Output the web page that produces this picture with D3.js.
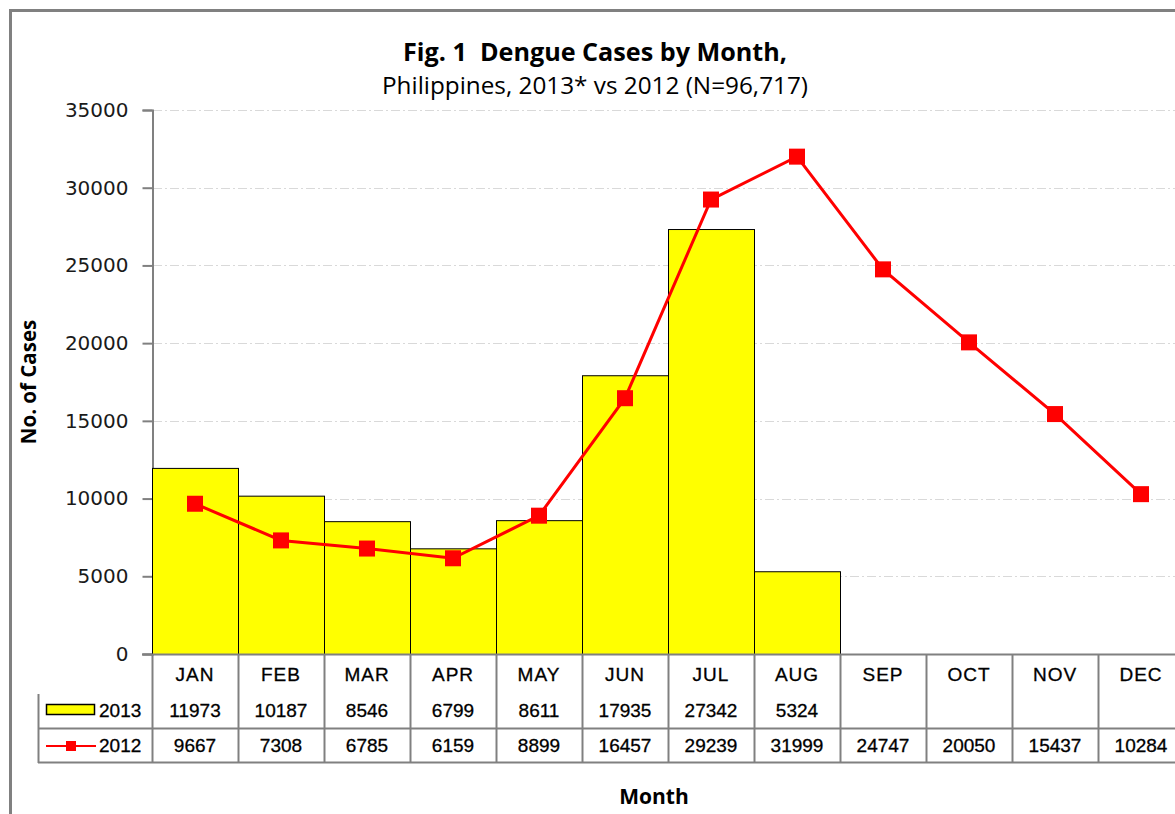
<!DOCTYPE html>
<html>
<head>
<meta charset="utf-8">
<script src="https://cdn.jsdelivr.net/npm/d3@7/dist/d3.min.js"></script>
<style>
  html, body { margin: 0; padding: 0; background: #fff; }
  svg { display: block; }
</style>
</head>
<body>
<div id="chart"></div>
<script>
/* dengue cases by month: bars (2013) + line (2012) + data table under the axis */
const months = ['JAN', 'FEB', 'MAR', 'APR', 'MAY', 'JUN', 'JUL', 'AUG', 'SEP', 'OCT', 'NOV', 'DEC'];
const cases2013 = [11973, 10187, 8546, 6799, 8611, 17935, 27342, 5324];
const cases2012 = [9667, 7308, 6785, 6159, 8899, 16457, 29239, 31999, 24747, 20050, 15437, 10284];
const yTicks = [0, 5000, 10000, 15000, 20000, 25000, 30000, 35000];
const titleLines = ['Fig. 1  Dengue Cases by Month,', 'Philippines, 2013* vs 2012 (N=96,717)'];

const W = 1175, H = 814;
const grey = '#808080';
const titleFont = "'Open Sans', 'DejaVu Sans', sans-serif";
const tableFont = "'Liberation Sans', Arial, sans-serif";

const svg = d3.select('#chart').append('svg').attr('width', W).attr('height', H);

/* --- cadre extérieur ---------------------------------------------------- */
svg.append('path')
  .attr('d', 'M10.5,' + H + ' V10.5 H' + W)
  .attr('fill', 'none').attr('stroke', grey).attr('stroke-width', 3);

/* --- échelles ------------------------------------------------------------ */
const x = d3.scaleBand().domain(months).range([152, 1184]).padding(0);
const y = d3.scaleLinear().domain([0, 35000]).range([654, 110]);

/* --- grille ------------------------------------------------------------- */
svg.append('g').selectAll('line').data(yTicks.filter(d => d > 0)).join('line')
  .attr('x1', 153).attr('x2', W)
  .attr('y1', d => Math.round(y(d)) + 0.5).attr('y2', d => Math.round(y(d)) + 0.5)
  .attr('stroke', '#d9d9d9').attr('stroke-width', 1)
  .attr('stroke-dasharray', '9 3 2 3');

/* --- axe Y --------------------------------------------------------------- */
const yAxis = svg.append('g').attr('transform', 'translate(152.5,0)')
  .call(d3.axisLeft(y).tickValues(yTicks).tickSize(10).tickPadding(14).tickFormat(d3.format('d')));
yAxis.select('.domain').attr('stroke', grey).attr('stroke-width', 2);
yAxis.selectAll('.tick line').attr('stroke', grey).attr('stroke-width', 2);
yAxis.selectAll('.tick text')
  .attr('font-family', "'DejaVu Sans', sans-serif").attr('font-size', 20)
  .attr('fill', '#1a1a1a');

/* --- barres 2013 ---------------------------------------------------------- */
svg.append('g').selectAll('rect').data(cases2013).join('rect')
  .attr('x', (d, i) => x(months[i]) + 0.5)
  .attr('y', d => y(d) + 0.5)
  .attr('width', x.bandwidth())
  .attr('height', d => y(0) - y(d))
  .attr('fill', '#ffff00').attr('stroke', '#000').attr('stroke-width', 1);

/* --- ligne 2012 --------------------------------------------------------- */
const cx = (d, i) => x(months[i]) + x.bandwidth() / 2;
svg.append('path').datum(cases2012)
  .attr('d', d3.line().x(cx).y(d => y(d)))
  .attr('fill', 'none').attr('stroke', '#ff0000').attr('stroke-width', 3);
svg.append('g').selectAll('rect').data(cases2012).join('rect')
  .attr('x', (d, i) => cx(d, i) - 8).attr('y', d => y(d) - 8)
  .attr('width', 16).attr('height', 16).attr('fill', '#ff0000');

/* --- tableau de données -------------------------------------------------- */
const tbl = svg.append('g');
// ligne de base (axe X)
tbl.append('line').attr('x1', 142).attr('x2', W).attr('y1', 654.5).attr('y2', 654.5)
  .attr('stroke', grey).attr('stroke-width', 2);
// séparateurs verticaux
tbl.selectAll('line.v').data(months).join('line').attr('class', 'v')
  .attr('x1', d => Math.round(x(d)) + 0.5).attr('x2', d => Math.round(x(d)) + 0.5)
  .attr('y1', 654).attr('y2', 762)
  .attr('stroke', grey).attr('stroke-width', 2);
// cadre gauche + lignes horizontales
tbl.append('line').attr('x1', 38.5).attr('x2', 38.5).attr('y1', 694).attr('y2', 763)
  .attr('stroke', grey).attr('stroke-width', 2);
[728.5, 762.5].forEach(function (yy) {
  tbl.append('line').attr('x1', 38).attr('x2', W).attr('y1', yy).attr('y2', yy)
    .attr('stroke', grey).attr('stroke-width', 2);
});

function cellText(sel) {
  sel.attr('text-anchor', 'middle').attr('font-family', tableFont).attr('font-size', 19)
    .attr('fill', '#000').attr('stroke', '#000').attr('stroke-width', 0.3);
}
tbl.selectAll('text.m').data(months).join('text').attr('class', 'm')
  .attr('x', d => x(d) + x.bandwidth() / 2).attr('y', 681)
  .call(cellText).attr('letter-spacing', 1)
  .text(d => d);
tbl.selectAll('text.a').data(cases2013).join('text').attr('class', 'a')
  .attr('x', (d, i) => cx(d, i)).attr('y', 717)
  .call(cellText).text(d => d);
tbl.selectAll('text.b').data(cases2012).join('text').attr('class', 'b')
  .attr('x', (d, i) => cx(d, i)).attr('y', 752)
  .call(cellText).text(d => d);

// légendes dans le tableau
tbl.append('rect').attr('x', 46.5).attr('y', 704.5).attr('width', 48).attr('height', 10)
  .attr('fill', '#ffff00').attr('stroke', '#000').attr('stroke-width', 1.5);
tbl.append('text').attr('x', 99).attr('y', 717).call(cellText)
  .attr('text-anchor', 'start').text('2013');
tbl.append('line').attr('x1', 46).attr('x2', 96).attr('y1', 746).attr('y2', 746)
  .attr('stroke', '#ff0000').attr('stroke-width', 2);
tbl.append('rect').attr('x', 66).attr('y', 741).attr('width', 10).attr('height', 10)
  .attr('fill', '#ff0000');
tbl.append('text').attr('x', 99).attr('y', 752).call(cellText)
  .attr('text-anchor', 'start').text('2012');

/* --- titres --------------------------------------------------------------- */
svg.append('text').attr('x', 595).attr('y', 61).attr('text-anchor', 'middle')
  .style('white-space', 'pre')
  .attr('font-family', titleFont).attr('font-weight', 'bold').attr('font-size', 25)
  .attr('textLength', 384).attr('lengthAdjust', 'spacingAndGlyphs')
  .text(titleLines[0]);
svg.append('text').attr('x', 595).attr('y', 94).attr('text-anchor', 'middle')
  .attr('font-family', titleFont).attr('font-size', 24)
  .attr('textLength', 426).attr('lengthAdjust', 'spacingAndGlyphs')
  .text(titleLines[1]);
svg.append('text').attr('transform', 'translate(36,382) rotate(-90)')
  .attr('text-anchor', 'middle')
  .attr('font-family', titleFont).attr('font-weight', 'bold').attr('font-size', 20.5)
  .text('No. of Cases');
svg.append('text').attr('x', 654).attr('y', 804).attr('text-anchor', 'middle')
  .attr('font-family', titleFont).attr('font-weight', 'bold').attr('font-size', 21)
  .text('Month');
</script>
</body>
</html>
